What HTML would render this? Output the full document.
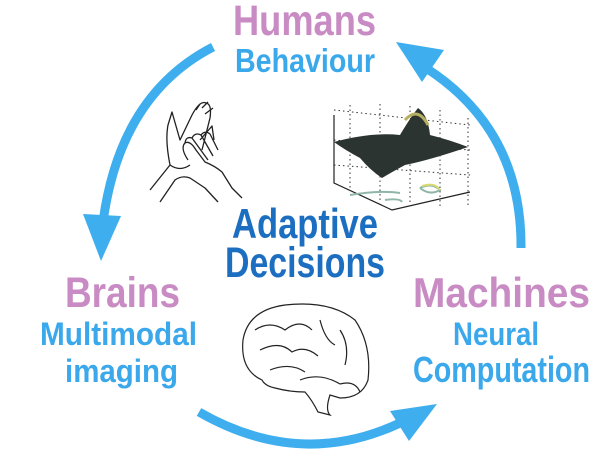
<!DOCTYPE html>
<html><head><meta charset="utf-8"><style>
html,body{margin:0;padding:0;background:#fff;}
svg{display:block}
text{font-family:"Liberation Sans Narrow","Liberation Sans",sans-serif;font-weight:bold;}
</style></head><body>
<svg width="600" height="450" viewBox="0 0 600 450" xmlns="http://www.w3.org/2000/svg">
<!-- arrows -->
<g fill="none" stroke="#3eaeee" stroke-width="9">
<path d="M213,47 Q120,95 103,222"/>
<path d="M521,248 Q522,130 426,68"/>
<path d="M199,412 Q300,470 400,423"/>
</g>
<g fill="#3eaeee">
<polygon points="83,214 121,216 101,261"/>
<polygon points="396,42 444,50 422,82"/>
<polygon points="437,404 390,411 409,441"/>
</g>
<!-- hands -->
<g fill="none" stroke="#222" stroke-width="1.3" stroke-linejoin="round">
<path d="M150,190 L170,165 Q165,140 168,125 L172,112 L180,140 L192,115 Q200,100 206,103 Q212,104 210,118 L202,150"/>
<path d="M196,110 L200,104 M202,108 L208,102 M205,114 L213,108"/>
<path d="M170,165 Q180,172 190,165"/>
<path d="M188,160 Q180,148 185,143 Q190,140 196,150 L205,162 Q215,166 222,172 L232,188 L242,198"/>
<path d="M185,143 Q186,136 192,138 L208,160 M192,138 Q195,132 201,135 L213,156 M201,135 Q205,130 210,134 L218,150"/>
<path d="M160,202 L175,180 Q182,175 190,178 L205,188 L218,202"/>
<path d="M200,140 L212,126 L214,140"/>
</g>
<!-- surface plot -->
<g stroke="#333" stroke-width="1" fill="none" stroke-dasharray="1.5,3">
<path d="M334,110 L470,125 M334,140 L470,150 M334,165 L470,175 M350,105 L350,190 M380,104 L380,200 M410,106 L410,205 M440,110 L440,208 M468,118 L468,205"/>
</g>
<path d="M334,115 L334,183 L392,210 L470,192" fill="none" stroke="#222" stroke-width="1.2"/>
<path d="M334,142 Q370,132 400,135 Q410,118 418,108 Q428,115 430,135 Q450,140 468,147 Q430,160 405,165 Q392,172 382,178 Q370,170 360,158 Q345,150 334,142 Z" fill="#2b3430"/>
<path d="M405,120 Q418,106 428,125" fill="none" stroke="#b8b060" stroke-width="3"/>
<path d="M350,195 Q380,190 400,193 M385,200 Q400,198 402,202 M420,188 Q432,182 440,190 Q430,196 420,188" fill="none" stroke="#8fb6a8" stroke-width="2"/>
<path d="M422,186 Q435,182 440,190" fill="none" stroke="#dada70" stroke-width="2"/>
<!-- brain -->
<g fill="none" stroke="#222" stroke-width="1.2">
<path d="M262,380 Q240,370 243,340 Q248,310 285,305 Q330,300 355,320 Q372,345 368,380 Q362,398 340,398 L330,395 Q325,410 330,415 L318,412 Q312,400 305,392 Q290,392 275,388 Q265,386 262,380 Z"/>
<path d="M255,330 Q270,320 285,330 Q300,318 312,330 M260,350 Q280,340 292,352 Q305,345 318,356 M270,370 Q290,362 305,372 M320,320 Q325,340 335,345 M340,330 Q350,345 345,365 M300,380 Q320,372 340,384 M340,384 Q355,380 360,392"/>
</g>
<!-- labels -->
<text x="233" y="35" font-size="43" fill="#c98bc3" textLength="143" lengthAdjust="spacingAndGlyphs">Humans</text>
<text x="235" y="72" font-size="33" fill="#3aa8ea" textLength="140" lengthAdjust="spacingAndGlyphs">Behaviour</text>
<text x="232" y="238" font-size="42" fill="#1c6fc0" textLength="146" lengthAdjust="spacingAndGlyphs">Adaptive</text>
<text x="225" y="277" font-size="43" fill="#1c6fc0" textLength="160" lengthAdjust="spacingAndGlyphs">Decisions</text>
<text x="65" y="307" font-size="43" fill="#c98bc3" textLength="115" lengthAdjust="spacingAndGlyphs">Brains</text>
<text x="40" y="345" font-size="32" fill="#3aa8ea" textLength="157" lengthAdjust="spacingAndGlyphs">Multimodal</text>
<text x="65" y="382" font-size="32" fill="#3aa8ea" textLength="113" lengthAdjust="spacingAndGlyphs">imaging</text>
<text x="413" y="307" font-size="42" fill="#c98bc3" textLength="177" lengthAdjust="spacingAndGlyphs">Machines</text>
<text x="453" y="345" font-size="32" fill="#3aa8ea" textLength="86" lengthAdjust="spacingAndGlyphs">Neural</text>
<text x="413" y="382" font-size="36" fill="#3aa8ea" textLength="177" lengthAdjust="spacingAndGlyphs">Computation</text>
</svg>
</body></html>
